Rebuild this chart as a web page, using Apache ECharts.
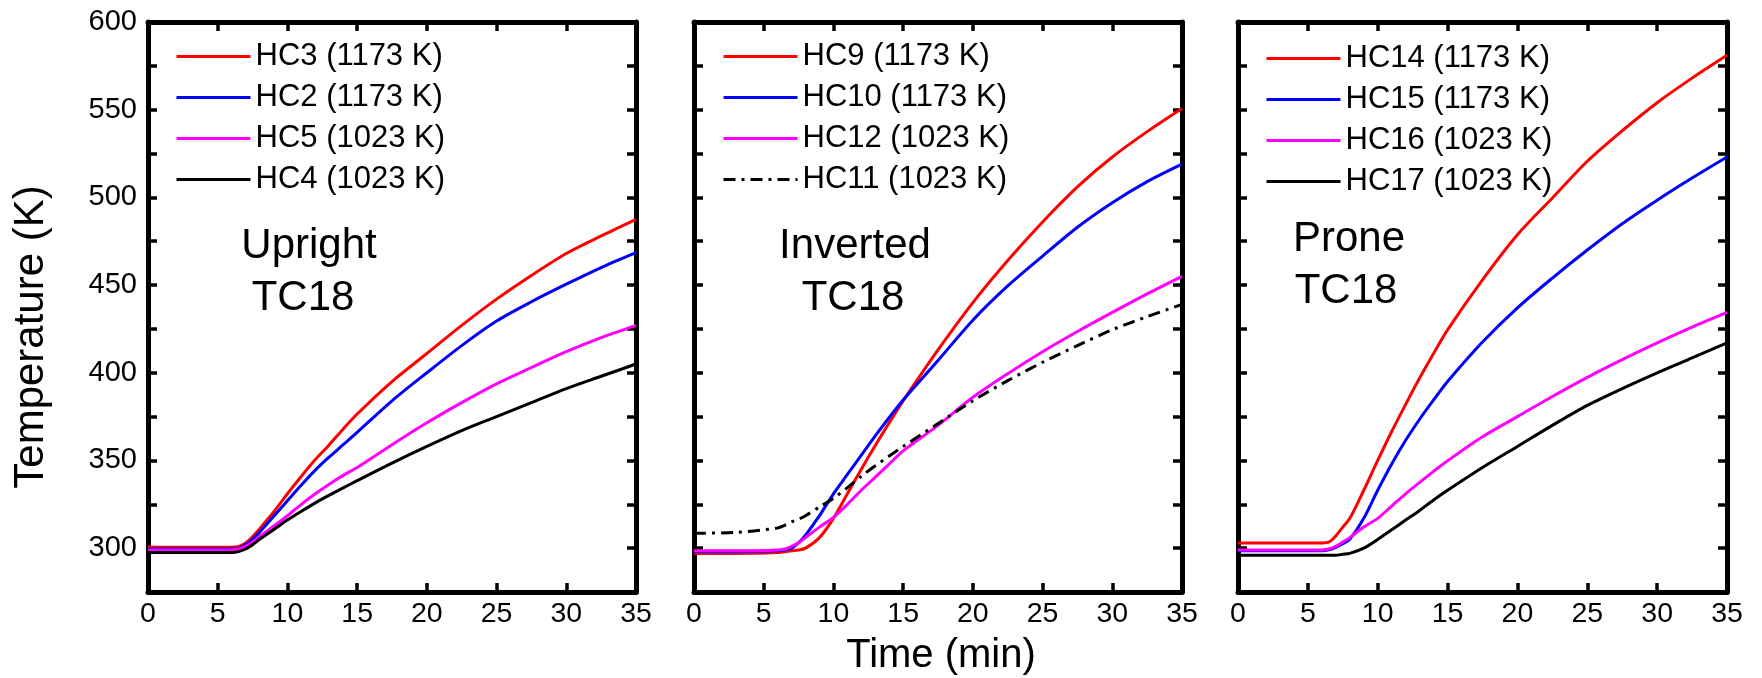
<!DOCTYPE html>
<html>
<head>
<meta charset="utf-8">
<script src="https://cdn.jsdelivr.net/npm/echarts@6/dist/echarts.min.js"></script>
<style>
html,body{margin:0;padding:0;background:#fff;}
#chart{width:1762px;height:678px;}
</style>
</head>
<body>
<div id="chart"></div>
<script>
// ---- data ----
const times = [0, 3, 6, 6.5, 7, 7.5, 8, 9, 10, 11, 12, 13, 14, 15, 17.5, 20, 22.5, 25, 27.5, 30, 32.5, 35];
const xTicks = [0, 5, 10, 15, 20, 25, 30, 35];
const yTicks = [300, 350, 400, 450, 500, 550, 600];

// Upright
const hc3  = [300.5, 300.5, 300.5, 301, 303, 306.5, 311, 320.5, 331, 341, 350.5, 359, 368, 376.5, 395, 411, 427, 442, 455.5, 468, 478, 487.5];
const hc2  = [299.5, 299.5, 299.5, 300, 302, 305, 309, 318, 327, 336, 344.5, 352, 359, 366, 384, 400, 415.5, 429.5, 440.5, 450.5, 460, 468.5];
const hc5  = [299, 299, 299, 299.5, 301, 303.5, 306.5, 312.5, 318.5, 325, 331, 336.5, 341.5, 346, 359, 371.5, 383, 393.7, 403, 412, 420, 427];
const hc4  = [297.5, 297.5, 297.5, 298, 299.5, 302, 305, 310.5, 316, 321, 325.8, 330.2, 334.4, 338.5, 348.5, 358, 367, 375, 383, 391, 398, 405];
// Inverted
const hc9  = [297, 297, 297.5, 298, 298.5, 299, 300, 306, 317, 331, 345, 358.5, 371.5, 384, 413, 440, 464, 486, 506, 523, 537.5, 550.7];
const hc10 = [298, 298, 298.5, 299, 300, 303, 307.4, 318.5, 331, 342, 353, 364, 374.5, 384.5, 407, 430, 449.5, 466.5, 483, 497, 509, 519];
const hc12 = [298.5, 298.5, 299, 299.5, 301, 303, 306, 312, 317.5, 325, 333, 340.5, 348, 355.5, 370, 386, 399.5, 412, 423.5, 434.4, 445, 455];
const hc11 = [308.5, 309, 311.5, 313, 315, 316.5, 318.5, 323.5, 328.4, 334.5, 341, 347, 352.5, 358, 371, 384, 395.5, 406, 415.5, 424.5, 432, 439];
// Prone
const hc14 = [303, 303, 303, 303.5, 307, 312, 317, 333, 350, 366.5, 382, 397, 411, 424.5, 453, 478.7, 499.7, 520.6, 538, 554, 568, 581];
const hc15 = [298.5, 298.5, 298.5, 299, 300.5, 302.5, 305, 317, 333, 348, 361.5, 373.5, 384.5, 395, 417.5, 437, 454, 470, 485, 498.4, 511, 523];
const hc16 = [299, 299, 299, 299.5, 301, 303.5, 306, 312, 317, 324, 331, 337.5, 343.8, 349.8, 363.5, 375, 386.5, 397.4, 407.5, 417, 426, 434.4];
const hc17 = [296, 296, 296, 296, 296, 296.5, 297, 300, 305, 310.5, 316, 321.5, 327.5, 333, 346, 358, 370, 381.4, 391, 400, 408.5, 417];

const panels = [
  { label: ['Upright', 'TC18'], series: [
    ['HC3 (1173 K)', hc3, 'red'], ['HC2 (1173 K)', hc2, 'blue'],
    ['HC5 (1023 K)', hc5, 'magenta'], ['HC4 (1023 K)', hc4, 'black'] ] },
  { label: ['Inverted', 'TC18'], series: [
    ['HC9 (1173 K)', hc9, 'red'], ['HC10 (1173 K)', hc10, 'blue'],
    ['HC12 (1023 K)', hc12, 'magenta'], ['HC11 (1023 K)', hc11, 'dashdot'] ] },
  { label: ['Prone', 'TC18'], series: [
    ['HC14 (1173 K)', hc14, 'red'], ['HC15 (1173 K)', hc15, 'blue'],
    ['HC16 (1023 K)', hc16, 'magenta'], ['HC17 (1023 K)', hc17, 'black'] ] }
];

// ---- layout / styles ----
const FONT = '"Liberation Sans", Arial, sans-serif';
const grids = [
  { left: 148, top: 22, width: 488, height: 570 },
  { left: 694, top: 22, width: 488, height: 570 },
  { left: 1238, top: 22, width: 489, height: 570 }
];
const styles = {
  red: { color: '#ff0000', type: 'solid' },
  blue: { color: '#0000ff', type: 'solid' },
  magenta: { color: '#ff00ff', type: 'solid' },
  black: { color: '#000000', type: 'solid' },
  dashdot: { color: '#000000', type: [12, 6, 3, 6] }
};
// [x line1, y line1, x line2, y line2]
const annotPos = [[309, 246, 303, 298], [855, 246, 853, 298], [1349, 239, 1346, 291]];
const legendPos = [[175, 41], [722, 41], [1265, 43]];

const xAxes = [], yAxes = [], series = [], legends = [], graphics = [];
const YMIN = 275, YMAX = 600, XMIN = 0, XMAX = 35;
const tickStyle = { show: true, inside: true, length: 9, lineStyle: { color: '#000', width: 3.5 } };
const lineAx = { show: true, onZero: false, lineStyle: { color: '#000', width: 5 } };

panels.forEach((p, gi) => {
  xAxes.push({
    type: 'value', gridIndex: gi, min: XMIN, max: XMAX, interval: 5, position: 'bottom',
    axisLine: lineAx, axisTick: tickStyle, splitLine: { show: false },
    axisLabel: { show: true, color: '#000', fontSize: 28.5, fontFamily: FONT, margin: 8,
      formatter: v => xTicks.indexOf(v) >= 0 ? String(v) : '' }
  });
  xAxes.push({
    type: 'value', gridIndex: gi, min: XMIN, max: XMAX, interval: 5, position: 'top',
    axisLine: lineAx, axisTick: tickStyle, splitLine: { show: false }, axisLabel: { show: false }
  });
  yAxes.push({
    type: 'value', gridIndex: gi, min: YMIN, max: YMAX, interval: 25, position: 'left',
    axisLine: lineAx, axisTick: tickStyle, splitLine: { show: false },
    axisLabel: { show: gi === 0, color: '#000', fontSize: 29, fontFamily: FONT, margin: 11,
      formatter: v => yTicks.indexOf(v) >= 0 ? String(v) : '' }
  });
  yAxes.push({
    type: 'value', gridIndex: gi, min: YMIN, max: YMAX, interval: 25, position: 'right',
    axisLine: lineAx, axisTick: tickStyle, splitLine: { show: false }, axisLabel: { show: false }
  });

  const names = [];
  p.series.forEach(([name, vals, st]) => {
    const s = styles[st];
    names.push(name);
    series.push({
      name, type: 'line', xAxisIndex: gi * 2, yAxisIndex: gi * 2,
      data: times.map((t, i) => [t, vals[i]]),
      smooth: 0.3, symbol: 'none', showSymbol: false,
      lineStyle: { color: s.color, width: 3, type: s.type },
      itemStyle: { color: s.color }, z: 3
    });
  });
  legends.push({
    data: names, orient: 'vertical', left: legendPos[gi][0], top: legendPos[gi][1],
    itemWidth: 74, itemHeight: 14, itemGap: 10, padding: 0,
    selectedMode: false,
    itemStyle: { opacity: 0 },
    lineStyle: { width: 3 },
    textStyle: { color: '#000', fontSize: 31, fontFamily: FONT, lineHeight: 30 }
  });
  const [x1, y1, x2, y2] = annotPos[gi];
  graphics.push({ type: 'text', x: x1, y: y1, z: 10,
    style: { text: p.label[0], fill: '#000', font: '42px ' + FONT, textAlign: 'center', textVerticalAlign: 'middle' } });
  graphics.push({ type: 'text', x: x2, y: y2, z: 10,
    style: { text: p.label[1], fill: '#000', font: '42px ' + FONT, textAlign: 'center', textVerticalAlign: 'middle' } });
});

graphics.push({ type: 'text', x: 31, y: 337, rotation: Math.PI / 2, z: 10,
  style: { text: 'Temperature (K)', fill: '#000', font: '42px ' + FONT, textAlign: 'center', textVerticalAlign: 'middle' } });
graphics.push({ type: 'text', x: 941, y: 656, z: 10,
  style: { text: 'Time (min)', fill: '#000', font: '40px ' + FONT, textAlign: 'center', textVerticalAlign: 'middle' } });

const chart = echarts.init(document.getElementById('chart'), null, { renderer: 'canvas' });
chart.setOption({
  backgroundColor: '#fff',
  animation: false,
  grid: grids.map(g => Object.assign({ containLabel: false }, g)),
  xAxis: xAxes, yAxis: yAxes, series, legend: legends, graphic: graphics
});
</script>
</body>
</html>
